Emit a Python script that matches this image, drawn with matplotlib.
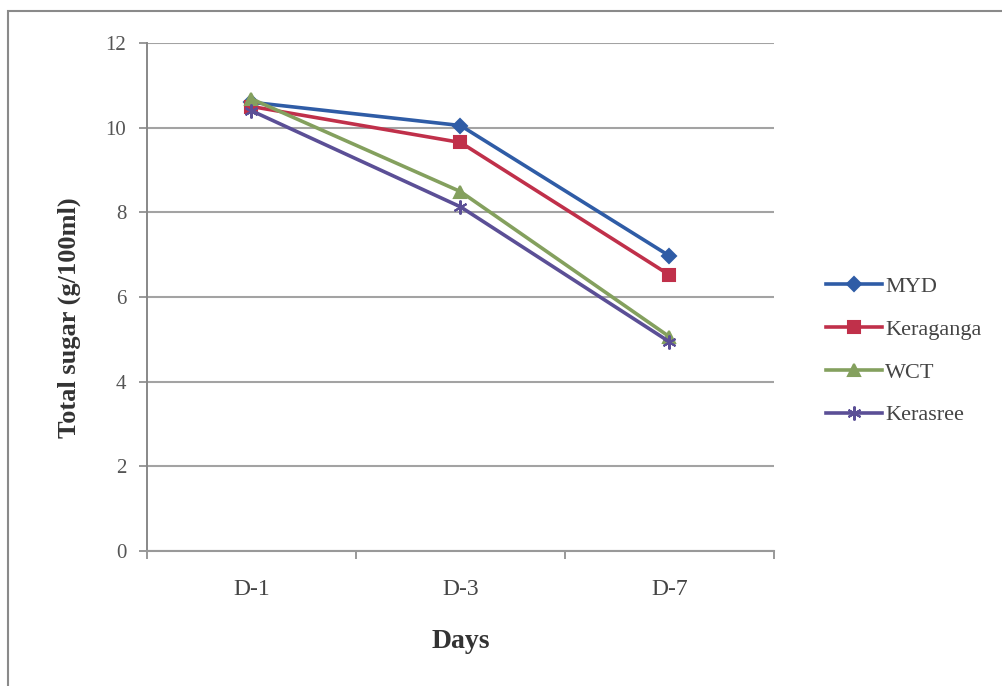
import matplotlib
matplotlib.use("Agg")
import matplotlib.pyplot as plt
from matplotlib.patches import Rectangle

# Data
days = ["D-1", "D-3", "D-7"]
myd = [10.6, 10.05, 6.97]
keraganga = [10.5, 9.65, 6.52]
wct = [10.68, 8.49, 5.06]
kerasree = [10.4, 8.13, 4.94]
yticks = [0, 2, 4, 6, 8, 10, 12]

plt.rcParams["font.family"] = ["Liberation Serif", "DejaVu Serif"]

fig = plt.figure(figsize=(10.03, 6.86), dpi=100)
fig.patch.set_facecolor("white")

# outer chart border
fig.patches.append(Rectangle((8 / 1003, -0.05), 1.2, 1 - 11 / 686 + 0.05,
                             transform=fig.transFigure, fill=False,
                             edgecolor="#8a8a8a", linewidth=1.5, zorder=0))

ax = fig.add_axes([147 / 1003, 1 - 551 / 686, 627 / 1003, (551 - 43) / 686])

x = list(range(len(days)))
series = [
    ("MYD", myd, "#2f5ca6", "D", 7),
    ("Keraganga", keraganga, "#c0304a", "s", 9),
    ("WCT", wct, "#84a05e", "^", 9),
    ("Kerasree", kerasree, "#5b4f96", (6, 2, 0), 10),
]
for name, vals, col, mk, ms in series:
    ax.plot(x, vals, color=col, linewidth=2.6, marker=mk, markersize=ms,
            markeredgecolor=col, markerfacecolor=col, markeredgewidth=1.5,
            label=name)

ax.set_xlim(-0.5, len(days) - 0.5)
ax.set_ylim(0, 12)
ax.set_yticks(yticks)
ax.set_yticklabels([str(v) for v in yticks], fontsize=15, color="#555555")
ax.set_xticks(x)
ax.set_xticklabels(days, fontsize=17, color="#444444")
ax.tick_params(axis="x", length=0, pad=20)
ax.set_xticks([-0.5, 0.5, 1.5, 2.5], minor=True)
ax.tick_params(axis="x", which="minor", length=6, color="#888888", width=1.2)
ax.tick_params(axis="y", length=6, color="#888888", width=1.2, pad=9)

ax.grid(axis="y", color="#a3a3a3", linewidth=1.5)
ax.set_axisbelow(True)
for s in ["top", "right"]:
    ax.spines[s].set_visible(False)
ax.spines["left"].set_color("#888888")
ax.spines["left"].set_linewidth(1.4)
ax.spines["bottom"].set_color("#999999")
ax.spines["bottom"].set_linewidth(1.5)

ax.set_xlabel("Days", fontsize=20, fontweight="bold", color="#333333", labelpad=21)
ax.set_ylabel("Total sugar (g/100ml)", fontsize=19, fontweight="bold",
              color="#333333")
ax.yaxis.set_label_coords(-0.105, 0.459)

fig.legend(loc="center left", bbox_to_anchor=(806 / 1003, 1 - 351 / 686),
           frameon=False, fontsize=16, handlelength=2.5, handletextpad=0.15,
           labelspacing=1.0, labelcolor="#444444")

fig.savefig("out.png", dpi=100)
